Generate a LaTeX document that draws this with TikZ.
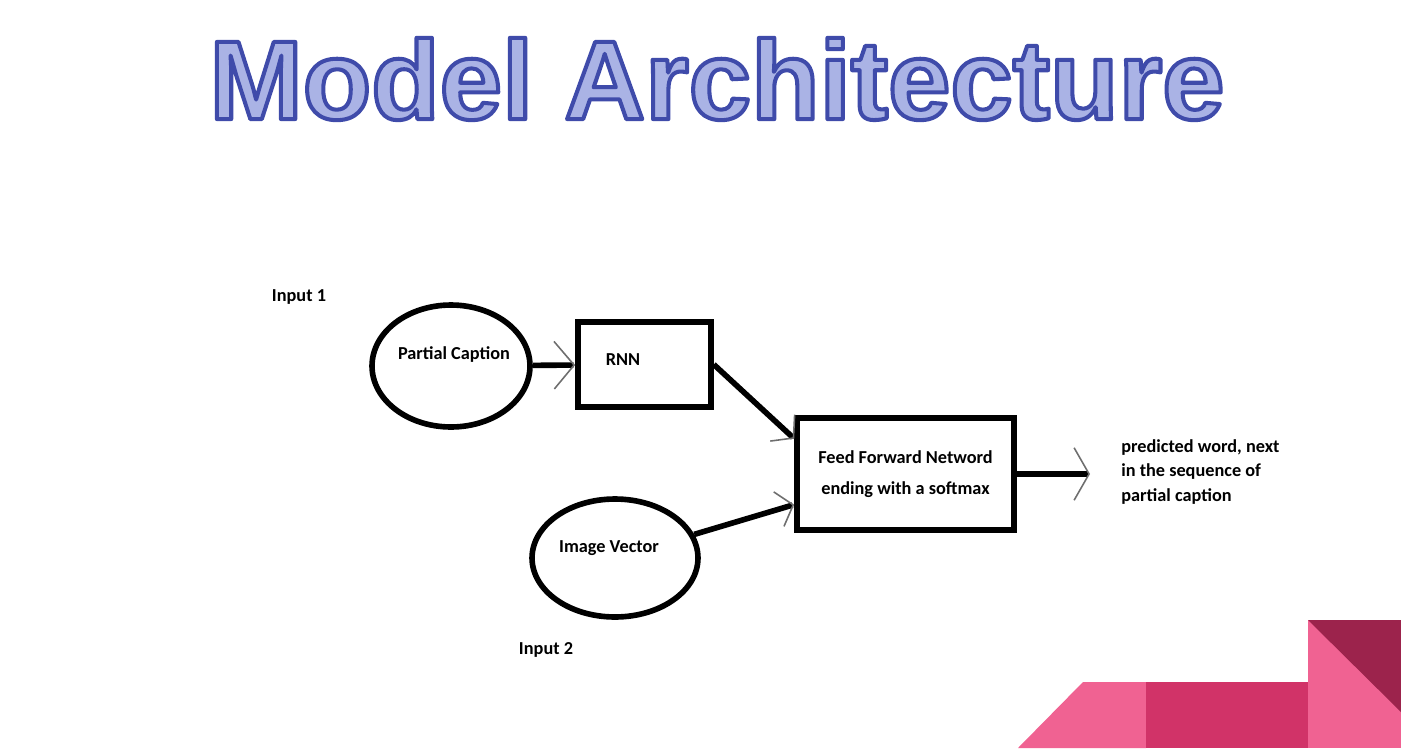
\documentclass[tikz,border=0pt]{standalone}
\usepackage{fontspec}
\setmainfont{Carlito}
\newfontfamily\titlefont{Liberation Sans}
\usetikzlibrary{shapes.geometric,arrows.meta,calc}

\definecolor{titlefill}{HTML}{AAB3E5}
\definecolor{barbgray}{HTML}{6E6E6E}
\definecolor{pinklight}{HTML}{F06292}
\definecolor{pinkdeep}{HTML}{D13368}
\definecolor{maroon}{HTML}{9C234C}

% outlined title letters: fill colour from the node, stroke set here
\newcommand{\outlinetext}[1]{%
  \special{pdf:literal direct 2 Tr 2.3 w 1 j 0.247 0.294 0.667 RG}#1%
  \special{pdf:literal direct 0 Tr 1 w 0 j}}

\tikzset{
  bigbarb/.tip={Straight Barb[color=barbgray, line width=0.9pt, length=0.4cm, width=0.95cm]},
  outbarb/.tip={Straight Barb[color=barbgray, line width=0.9pt, length=0.3cm, width=1.05cm]},
  smallbarb/.tip={Straight Barb[color=barbgray, line width=0.9pt, length=0.3cm, width=0.72cm]},
  lbl/.style={font=\bfseries\fontsize{10.4}{12}\selectfont, inner sep=0pt},
  oval/.style={draw, ellipse, line width=3.2pt, inner sep=0pt},
  block/.style={draw, rectangle, line width=3.2pt, inner sep=0pt},
  link/.style={line width=3.2pt}
}

\begin{document}
\begin{tikzpicture}[x=0.02cm, y=-0.02cm]
		\useasboundingbox (0,0) rectangle (1401,748);
		% title
		\node[inner sep=0pt, text=titlefill, font=\titlefont\bfseries\fontsize{63.8}{70}\selectfont] (title) at (717,79) {\outlinetext{Model Architecture}};
		% corner decoration
		\fill[pinklight] (1018,748) -- (1083,682) -- (1146,682) -- (1146,748) -- cycle;
		\fill[pinkdeep] (1146,682) rectangle (1308,748);
		\fill[pinklight] (1308,620) rectangle (1401,748);
		\fill[maroon] (1308,620) -- (1401,620) -- (1401,712) -- cycle;
		% diagram
		\node[lbl] (in1) at (299,297) {Input 1};
		\node[oval, minimum width=3.16cm, minimum height=2.44cm,
			label={[lbl, yshift=0.22cm, xshift=0.06cm]center:Partial Caption}] (pc) at (451,366) {};
		\node[block, minimum width=2.66cm, minimum height=1.7cm,
			label={[lbl, xshift=-0.43cm, yshift=0.09cm]center:RNN}] (rnn) at (644.5,364.5) {};
		\node[block, minimum width=4.34cm, minimum height=2.24cm, align=center,
			font=\bfseries\fontsize{10.4}{18}\selectfont] (ffn) at (905.5,474) {Feed Forward Netword\\ending with a softmax};
		\node[oval, minimum width=3.32cm, minimum height=2.36cm,
			label={[lbl, yshift=0.2cm, xshift=-0.12cm]center:Image Vector}] (iv) at (615,558) {};
		\node[lbl] (in2) at (546,650) {Input 2};
		\node[lbl, anchor=west, align=left, font=\bfseries\fontsize{10.4}{14.2}\selectfont] (pred) at (1121,472) {predicted word, next\\in the sequence of\\partial caption};
		\coordinate (outend) at (1090,474);
		\coordinate (ffnup) at ($(ffn.north west)!0.2!(ffn.south west)$);
		\coordinate (ffndown) at ($(ffn.north west)!0.76!(ffn.south west)$);
		\draw[link, -bigbarb] (pc) -- (rnn);
		\draw[link, -smallbarb] (rnn.east) -- (ffnup);
		\draw[link, -smallbarb] (iv) -- (ffndown);
		\draw[link, -outbarb] (ffn.east) -- (outend);
	\end{tikzpicture}
\end{document}
